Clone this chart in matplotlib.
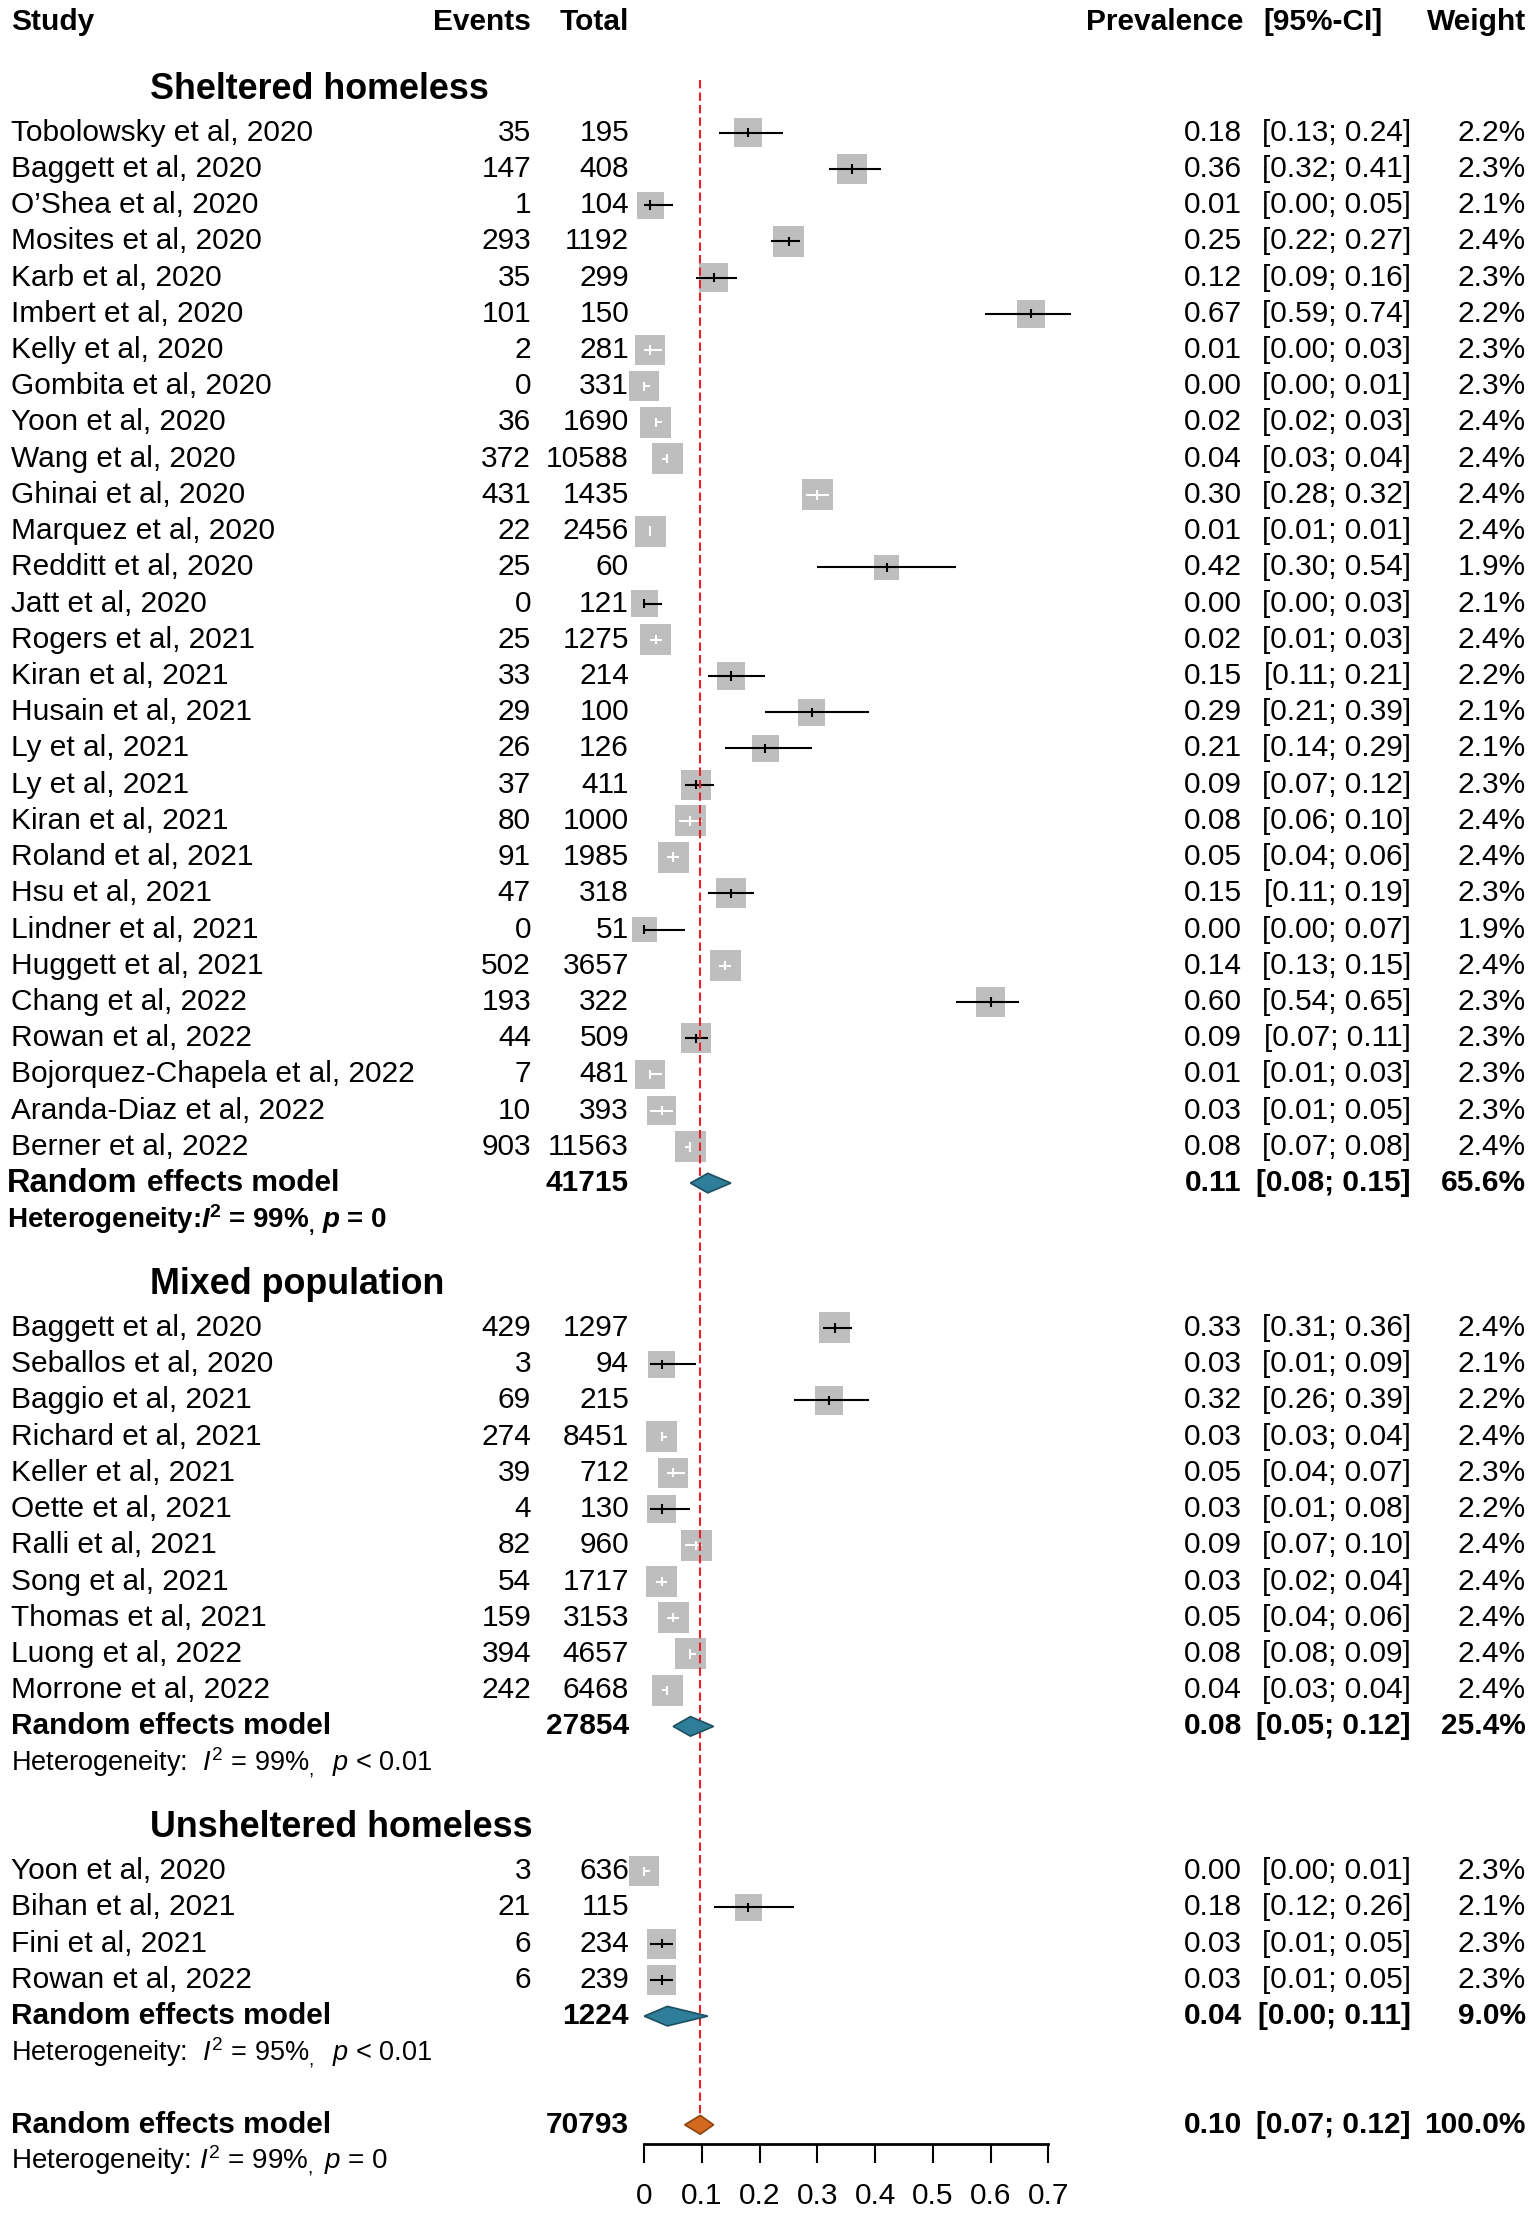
import matplotlib
matplotlib.use("Agg")
import matplotlib.pyplot as plt
from matplotlib.patches import Polygon

plt.rcParams['font.family'] = ['Liberation Sans', 'DejaVu Sans']
plt.rcParams['mathtext.fontset'] = 'custom'
plt.rcParams['mathtext.rm'] = 'Liberation Sans'
plt.rcParams['mathtext.it'] = 'Liberation Sans:italic'
plt.rcParams['mathtext.bf'] = 'Liberation Sans:bold'
plt.rcParams['mathtext.bfit'] = 'Liberation Sans:italic:bold'

# ---- data ----
shel_study = ["Tobolowsky et al, 2020", "Baggett et al, 2020", "O\u2019Shea et al, 2020", "Mosites et al, 2020",
              "Karb et al, 2020", "Imbert et al, 2020", "Kelly et al, 2020", "Gombita et al, 2020",
              "Yoon et al, 2020", "Wang et al, 2020", "Ghinai et al, 2020", "Marquez et al, 2020",
              "Redditt et al, 2020", "Jatt et al, 2020", "Rogers et al, 2021", "Kiran et al, 2021",
              "Husain et al, 2021", "Ly et al, 2021", "Ly et al, 2021", "Kiran et al, 2021",
              "Roland et al, 2021", "Hsu et al, 2021", "Lindner et al, 2021", "Huggett et al, 2021",
              "Chang et al, 2022", "Rowan et al, 2022", "Bojorquez-Chapela et al, 2022",
              "Aranda-Diaz et al, 2022", "Berner et al, 2022"]
shel_events = [35, 147, 1, 293, 35, 101, 2, 0, 36, 372, 431, 22, 25, 0, 25, 33, 29, 26, 37, 80, 91, 47, 0,
               502, 193, 44, 7, 10, 903]
shel_total = [195, 408, 104, 1192, 299, 150, 281, 331, 1690, 10588, 1435, 2456, 60, 121, 1275, 214, 100,
              126, 411, 1000, 1985, 318, 51, 3657, 322, 509, 481, 393, 11563]
shel_prev = [0.18, 0.36, 0.01, 0.25, 0.12, 0.67, 0.01, 0.00, 0.02, 0.04, 0.30, 0.01, 0.42, 0.00, 0.02,
             0.15, 0.29, 0.21, 0.09, 0.08, 0.05, 0.15, 0.00, 0.14, 0.60, 0.09, 0.01, 0.03, 0.08]
shel_lo = [0.13, 0.32, 0.00, 0.22, 0.09, 0.59, 0.00, 0.00, 0.02, 0.03, 0.28, 0.01, 0.30, 0.00, 0.01,
           0.11, 0.21, 0.14, 0.07, 0.06, 0.04, 0.11, 0.00, 0.13, 0.54, 0.07, 0.01, 0.01, 0.07]
shel_hi = [0.24, 0.41, 0.05, 0.27, 0.16, 0.74, 0.03, 0.01, 0.03, 0.04, 0.32, 0.01, 0.54, 0.03, 0.03,
           0.21, 0.39, 0.29, 0.12, 0.10, 0.06, 0.19, 0.07, 0.15, 0.65, 0.11, 0.03, 0.05, 0.08]
shel_weight = [2.2, 2.3, 2.1, 2.4, 2.3, 2.2, 2.3, 2.3, 2.4, 2.4, 2.4, 2.4, 1.9, 2.1, 2.4, 2.2, 2.1, 2.1,
               2.3, 2.4, 2.4, 2.3, 1.9, 2.4, 2.3, 2.3, 2.3, 2.3, 2.4]
# 1 = confidence interval lies within the square (drawn white)
shel_inside = [0, 0, 0, 0, 0, 0, 1, 1, 1, 1, 1, 1, 0, 0, 1, 0, 0, 0, 0, 1, 1, 0, 0, 1, 0, 0, 1, 1, 1]

mix_study = ["Baggett et al, 2020", "Seballos et al, 2020", "Baggio et al, 2021", "Richard et al, 2021",
             "Keller et al, 2021", "Oette et al, 2021", "Ralli et al, 2021", "Song et al, 2021",
             "Thomas et al, 2021", "Luong et al, 2022", "Morrone et al, 2022"]
mix_events = [429, 3, 69, 274, 39, 4, 82, 54, 159, 394, 242]
mix_total = [1297, 94, 215, 8451, 712, 130, 960, 1717, 3153, 4657, 6468]
mix_prev = [0.33, 0.03, 0.32, 0.03, 0.05, 0.03, 0.09, 0.03, 0.05, 0.08, 0.04]
mix_lo = [0.31, 0.01, 0.26, 0.03, 0.04, 0.01, 0.07, 0.02, 0.04, 0.08, 0.03]
mix_hi = [0.36, 0.09, 0.39, 0.04, 0.07, 0.08, 0.10, 0.04, 0.06, 0.09, 0.04]
mix_weight = [2.4, 2.1, 2.2, 2.4, 2.3, 2.2, 2.4, 2.4, 2.4, 2.4, 2.4]
mix_inside = [0, 0, 0, 1, 1, 0, 1, 1, 1, 1, 1]

uns_study = ["Yoon et al, 2020", "Bihan et al, 2021", "Fini et al, 2021", "Rowan et al, 2022"]
uns_events = [3, 21, 6, 6]
uns_total = [636, 115, 234, 239]
uns_prev = [0.00, 0.18, 0.03, 0.03]
uns_lo = [0.00, 0.12, 0.01, 0.01]
uns_hi = [0.01, 0.26, 0.05, 0.05]
uns_weight = [2.3, 2.1, 2.3, 2.3]
uns_inside = [1, 0, 0, 0]

group_names = ["Sheltered homeless", "Mixed population", "Unsheltered homeless"]
group_total = [41715, 27854, 1224]
group_est = [0.11, 0.08, 0.04]
group_lo = [0.08, 0.05, 0.00]
group_hi = [0.15, 0.12, 0.11]
group_weight = ["65.6%", "25.4%", "9.0%"]
group_i2 = ["99%", "99%", "95%"]
group_p = ["= 0", "< 0.01", "< 0.01"]

overall_total = 70793
overall_est = 0.097
overall_lo = 0.07
overall_hi = 0.12
overall_label = "0.10"
overall_i2 = "99%"
overall_p = "= 0"

ticks = [0, 0.1, 0.2, 0.3, 0.4, 0.5, 0.6, 0.7]

groups = [
    (shel_study, shel_events, shel_total, shel_prev, shel_lo, shel_hi, shel_weight, shel_inside),
    (mix_study, mix_events, mix_total, mix_prev, mix_lo, mix_hi, mix_weight, mix_inside),
    (uns_study, uns_events, uns_total, uns_prev, uns_lo, uns_hi, uns_weight, uns_inside),
]

# ---- layout (pixels of the 1535x2213 output) ----
W, H = 1535, 2213
x0_px, ppu = 644.3, 577.1      # pixel of prevalence 0, pixels per unit
y0_px, ppr = 132.7, 36.22      # pixel of first row, pixels per row
fs = 21.5
fs_het = 19.5

fig = plt.figure(figsize=(W / 100, H / 100), dpi=100)
ax = fig.add_axes([0, 0, 1, 1])
ax.set_xlim(-x0_px / ppu, (W - x0_px) / ppu)
ax.set_ylim((H - y0_px) / ppr, -y0_px / ppr)
ax.axis('off')
tr = ax.get_yaxis_transform()


def px(x):
    return x / W


def ftxt(x, y, s, **kw):
    kw.setdefault('fontsize', fs)
    kw.setdefault('va', 'center')
    ax.text(px(x), y, s, transform=tr, **kw)


def ci_text(lo, hi):
    return f"[{lo:.2f}; {hi:.2f}]"


# column headers
hy = -3.06
ftxt(11, hy, "Study", fontweight='bold')
ftxt(531, hy, "Events", fontweight='bold', ha='right')
ftxt(629, hy, "Total", fontweight='bold', ha='right')
ftxt(1243, hy, "Prevalence", fontweight='bold', ha='right')
ftxt(1263, hy, "[95%-CI]", fontweight='bold')
ftxt(1526, hy, "Weight", fontweight='bold', ha='right')

gray = '#BEBEBE'
row = 0
for g, (study, ev, tot, prev, lo, hi, wt, inside) in enumerate(groups):
    n = len(study)
    rows = [row + i for i in range(n)]
    ftxt(150, row - 1.2, group_names[g], fontweight='bold', fontsize=25.8)

    sides = [31 * w / 2.4 * 0.72 for w in wt]     # square side in points
    ax.scatter(prev, rows, s=[sd ** 2 for sd in sides], marker='s', c=gray, linewidths=0, zorder=2)
    cols = ['white' if k else 'black' for k in inside]
    ax.hlines(rows, lo, hi, colors=cols, lw=1.5, zorder=3)
    ax.scatter(prev, rows, s=45, marker='|', c=cols, linewidths=1.5, zorder=3)

    for i in range(n):
        r = rows[i]
        ftxt(11, r, study[i])
        ftxt(531, r, str(ev[i]), ha='right')
        ftxt(629, r, str(tot[i]), ha='right')
        ftxt(1242, r, f"{prev[i]:.2f}", ha='right')
        ftxt(1411, r, ci_text(lo[i], hi[i]), ha='right')
        ftxt(1526, r, f"{wt[i]:.1f}%", ha='right')

    # subgroup pooled estimate
    r = row + n
    hh = 0.27
    ax.add_patch(Polygon([(group_lo[g], r), (group_est[g], r - hh), (group_hi[g], r), (group_est[g], r + hh)],
                         closed=True, fc='#2E7E99', ec='#1D4F61', lw=1.2, zorder=5))
    if g == 0:
        ftxt(7, r, "Random", fontweight='bold', fontsize=23.5)
        ftxt(147, r, "effects model", fontweight='bold')
    else:
        ftxt(11, r, "Random effects model", fontweight='bold')
    ftxt(629, r, str(group_total[g]), ha='right', fontweight='bold')
    ftxt(1242, r, f"{group_est[g]:.2f}", ha='right', fontweight='bold')
    ftxt(1411, r, ci_text(group_lo[g], group_hi[g]), ha='right', fontweight='bold')
    ftxt(1526, r, group_weight[g], ha='right', fontweight='bold')
    if g == 0:
        ftxt(7, r + 1, r"Heterogeneity:$\mathbfit{I}^{\mathbf{2}}$ = " + group_i2[g]
             + r"$_{\mathbf{,}}$ $\mathbfit{p}$ " + group_p[g], fontweight='bold', fontsize=20)
    else:
        ftxt(11, r + 1, r"Heterogeneity:  $I^2$ = " + group_i2[g] + r"$_,$  $p$ " + group_p[g],
             fontsize=fs_het)
    row = row + n + 4

# overall pooled estimate
r_all = row - 1
hh = 0.26
ax.add_patch(Polygon([(overall_lo, r_all), (overall_est, r_all - hh), (overall_hi, r_all),
                      (overall_est, r_all + hh)], closed=True, fc='#D2691E', ec='#8B4513', lw=1.2, zorder=5))
ftxt(11, r_all, "Random effects model", fontweight='bold')
ftxt(629, r_all, str(overall_total), ha='right', fontweight='bold')
ftxt(1242, r_all, overall_label, ha='right', fontweight='bold')
ftxt(1411, r_all, ci_text(overall_lo, overall_hi), ha='right', fontweight='bold')
ftxt(1526, r_all, "100.0%", ha='right', fontweight='bold')
ftxt(11, r_all + 1, r"Heterogeneity: $I^2$ = " + overall_i2 + r"$_,$ $p$ " + overall_p, fontsize=20)

# reference line at the overall estimate
ax.vlines(overall_est, -1.45, r_all, colors='#E8202A', linestyles=(0, (4, 2)), lw=1.5, zorder=4)

# x axis
axx = fig.add_axes([px(x0_px), (H - 2144) / H, 0.7 * ppu / W, 0.0005])
axx.set_xlim(0, 0.7)
axx.set_xticks(ticks)
axx.set_xticklabels([f"{t:g}" for t in ticks], fontsize=fs)
axx.set_yticks([])
for s in ['top', 'left', 'right']:
    axx.spines[s].set_visible(False)
axx.spines['bottom'].set_linewidth(2)
axx.tick_params(axis='x', length=13.5, width=1.5, pad=14)
axx.patch.set_alpha(0)

fig.savefig("out.png", dpi=100)
